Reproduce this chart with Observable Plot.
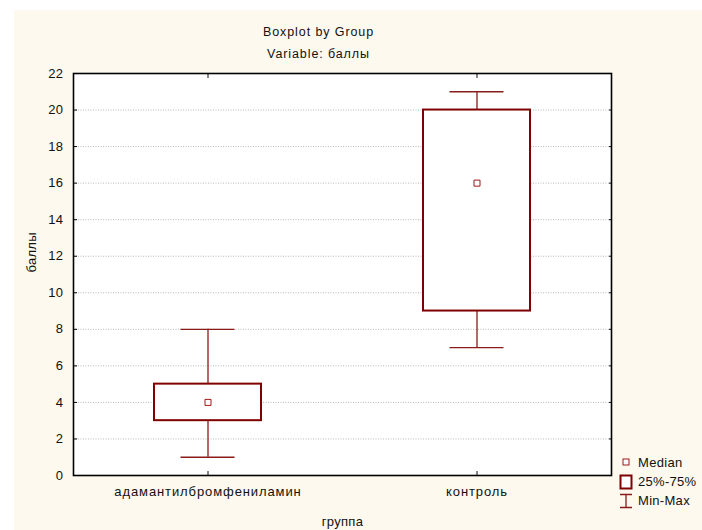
<!DOCTYPE html>
<html>
<head>
<meta charset="utf-8">
<script src="https://cdn.jsdelivr.net/npm/d3@7"></script>
<script src="https://cdn.jsdelivr.net/npm/@observablehq/plot@0.6"></script>
<style>
  body { margin: 0; background: white; }
  #wrap { position: relative; width: 702px; height: 530px; overflow: hidden;
          background: linear-gradient(#fdf9ee, #fdf9ee) 14px 10px / 688px 520px no-repeat, white; }
  #wrap > svg { position: absolute; left: 0; top: 0; background: transparent; }
  #legend { position: absolute; left: 619px; top: 455px; font: 13px "Liberation Sans", Arial, sans-serif; letter-spacing: 0.3px; color: #111; white-space: nowrap; }
  #legend .row { position: relative; height: 19px; }
  #legend svg { position: relative; }
  #legend span { position: absolute; left: 19px; top: 0px; line-height: 16px; }
</style>
</head>
<body>
<div id="wrap"></div>
<script>
const categories = ["адамантилбромфениламин", "контроль"];
const minValues = [1, 7];
const q1Values = [3, 9];
const medianValues = [4, 16];
const q3Values = [5, 20];
const maxValues = [8, 21];
const yTicks = [0, 2, 4, 6, 8, 10, 12, 14, 16, 18, 20, 22];
const titleText = "Boxplot by Group";
const subtitleText = "Variable: баллы";
const xLabel = "группа";
const yLabel = "баллы";
const legendLabels = ["Median", "25%-75%", "Min-Max"];

const data = categories.map((g, i) => ({
  group: g, min: minValues[i], q1: q1Values[i], median: medianValues[i], q3: q3Values[i], max: maxValues[i]
}));

const boxColor = "#800000";
const whiskerColor = "#8b1a1a";
const font = "Liberation Sans, Arial, sans-serif";

const chart = Plot.plot({
  width: 702,
  height: 530,
  marginLeft: 73,
  marginRight: 91,
  marginTop: 73,
  marginBottom: 55,
  style: { fontFamily: font, fontSize: "13px", background: "transparent", color: "#111" },
  x: { type: "band", domain: categories, paddingInner: 0.602, paddingOuter: 0.301, label: null },
  y: { domain: [0, 22], label: null },
  marks: [
    Plot.frame({ fill: "white", stroke: "none" }),
    Plot.gridY(yTicks.filter(v => v > 0 && v < 22), { stroke: "#b8b8b8", strokeOpacity: 1, strokeDasharray: "1,1.5" }),
    Plot.ruleX(data, { x: "group", y1: "min", y2: "q1", stroke: whiskerColor, strokeWidth: 1.3 }),
    Plot.ruleX(data, { x: "group", y1: "q3", y2: "max", stroke: whiskerColor, strokeWidth: 1.3 }),
    Plot.tickY(data, { x: "group", y: "min", insetLeft: 26.5, insetRight: 26.5, stroke: whiskerColor, strokeWidth: 1.3 }),
    Plot.tickY(data, { x: "group", y: "max", insetLeft: 26.5, insetRight: 26.5, stroke: whiskerColor, strokeWidth: 1.3 }),
    Plot.barY(data, { x: "group", y1: "q1", y2: "q3", fill: "white", stroke: boxColor, strokeWidth: 2 }),
    Plot.dot(data, { x: "group", y: "median", symbol: "square", r: 3.4, stroke: "#a01818", fill: "white", strokeWidth: 1 }),
    Plot.axisY({ ticks: yTicks, tickSize: 0, tickPadding: 10, label: null, fontSize: 13 }),
    Plot.axisY({ ticks: yTicks, tickSize: -4, tickFormat: () => "", label: null, stroke: "#000" }),
    Plot.axisY({ anchor: "right", ticks: yTicks, tickSize: -3, tickFormat: () => "", label: null }),
    Plot.axisX({ tickSize: 0, tickPadding: 11, label: null, fontSize: 13 }),
    Plot.axisX({ tickSize: -4, tickFormat: () => "", label: null }),
    Plot.axisX({ anchor: "top", tickSize: -4, tickFormat: () => "", label: null }),
    Plot.frame({ stroke: "#000", strokeWidth: 1.6 }),
    Plot.text([titleText], { frameAnchor: "top", dx: -24, dy: -42, lineAnchor: "middle", fontSize: 12.5, fill: "#111" }),
    Plot.text([subtitleText], { frameAnchor: "top", dx: -24, dy: -20, lineAnchor: "middle", fontSize: 12.5, fill: "#111" }),
    Plot.text([yLabel], { frameAnchor: "left", dx: -42, dy: -2, rotate: -90, lineAnchor: "middle", fontSize: 13, fill: "#111" }),
    Plot.text([xLabel], { frameAnchor: "bottom", dx: 0, dy: 46, lineAnchor: "middle", fontSize: 13, fill: "#111" })
  ]
});

// letter spacing to mimic the reference's wide text rendering
d3.select(chart).selectAll("text").each(function () {
  const t = this.textContent;
  let ls = "0.4px";
  if (t === titleText || t === subtitleText) ls = "0.9px";
  else if (categories.includes(t)) ls = "0.9px";
  else if (t === xLabel || t === yLabel) ls = "0.3px";
  this.style.letterSpacing = ls;
});

const wrap = document.getElementById("wrap");
wrap.appendChild(chart);

const legend = document.createElement("div");
legend.id = "legend";
const icons = [
  `<svg width="14" height="16"><rect x="4" y="4" width="6" height="6" fill="white" stroke="#a01818" stroke-width="1"/></svg>`,
  `<svg width="14" height="16"><rect x="1.5" y="1.5" width="11" height="13" fill="white" stroke="${boxColor}" stroke-width="2"/></svg>`,
  `<svg width="14" height="16"><path d="M1,1.5H13M7,1.5V14.5M1,14.5H13" fill="none" stroke="${whiskerColor}" stroke-width="1.3"/></svg>`
];
legendLabels.forEach((lab, i) => {
  const row = document.createElement("div");
  row.className = "row";
  row.innerHTML = icons[i] + `<span>${lab}</span>`;
  legend.appendChild(row);
});
wrap.appendChild(legend);
</script>
</body>
</html>
